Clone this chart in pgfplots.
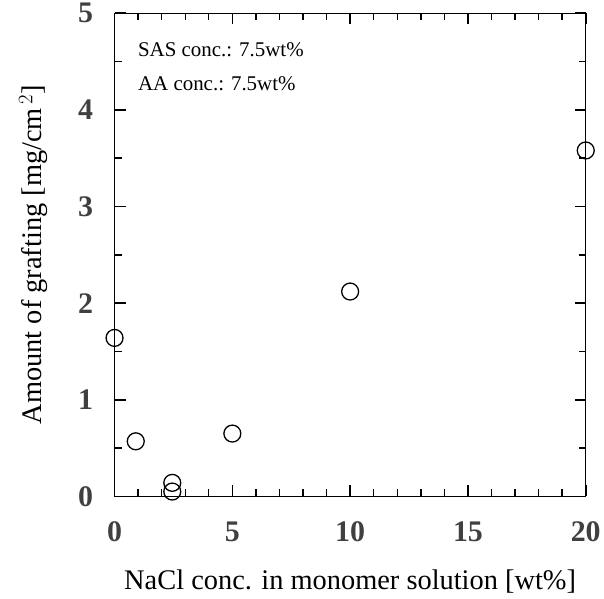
\documentclass[border=0pt]{standalone}
\usepackage{fontspec}
\setmainfont{Liberation Serif}
\usepackage{pgfplots}
\pgfplotsset{compat=1.18}
\begin{document}
\begin{tikzpicture}
\begin{axis}[
  scale only axis,
  width=473pt, height=485pt,
  xmin=0, xmax=20, ymin=0, ymax=5,
  xtick={0,5,10,15,20}, ytick={0,1,2,3,4,5},
  minor x tick num=4, minor y tick num=1,
  tick pos=both,
  tick align=inside,
  major tick length=11pt, minor tick length=7pt,
  axis line style={line width=1.3pt},
  major tick style={black, line width=1.6pt},
  minor tick style={black, line width=1.4pt},
  /pgf/number format/assume math mode=true,
  ticklabel style={font=\fontsize{30}{32}\selectfont\bfseries, text=black!75},
  xticklabel style={yshift=-22pt},
  yticklabel style={xshift=-18pt},
  xlabel={NaCl conc. in monomer solution [wt\%]},
  ylabel={Amount of grafting [mg/cm$^{\,2}$]},
  label style={font=\fontsize{28.5}{30}\selectfont},
  xlabel style={yshift=-21pt},
  ylabel style={yshift=24pt},
  clip=false,
]
\addplot[only marks, mark=o, mark size=8.5pt, line width=1.3pt] coordinates {
  (0,1.64) (0.9,0.57) (2.45,0.14) (2.45,0.05) (5,0.65) (10,2.12) (20,3.58)
};
\node[anchor=base west, font=\fontsize{21}{22}\selectfont] at (axis cs:0.85,4.55) {SAS conc.: 7.5wt\%};
\node[anchor=base west, font=\fontsize{21}{22}\selectfont] at (axis cs:0.85,4.2) {AA conc.: 7.5wt\%};
\coordinate (o) at (axis cs:0,0);
\end{axis}
\path (o) ++(-115pt,-103pt) rectangle ++(604pt,600pt);
\end{tikzpicture}
\end{document}
